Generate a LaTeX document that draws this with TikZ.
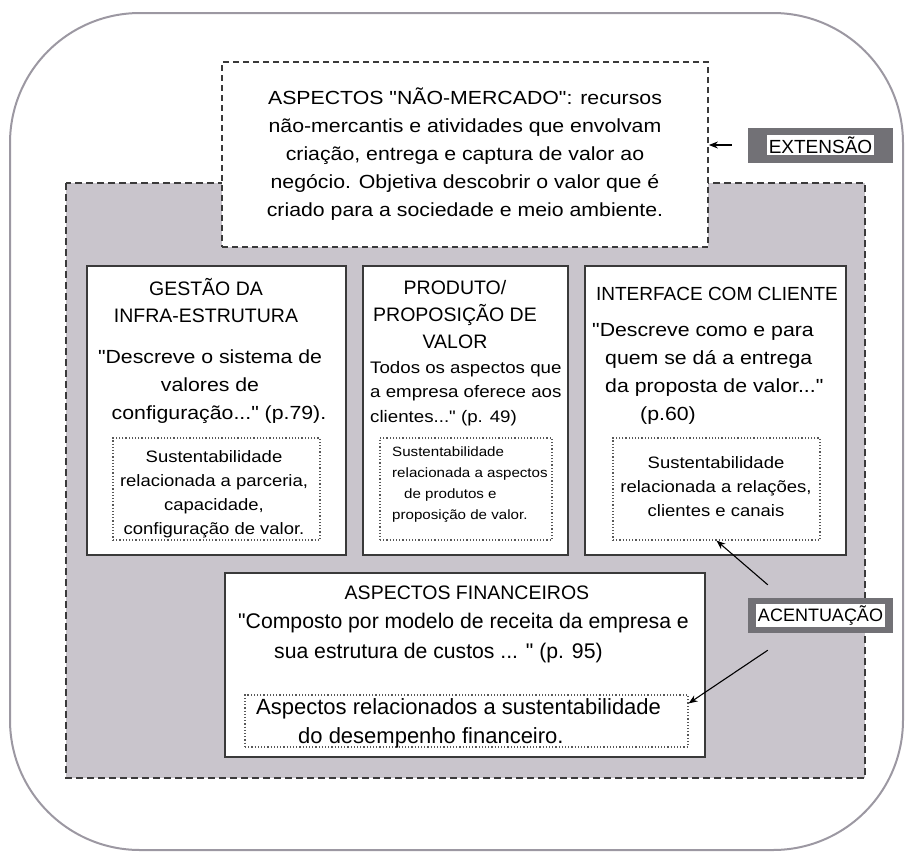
\documentclass[tikz,border=0pt]{standalone}
\usepackage{fontspec}
\setmainfont{Liberation Sans}[Ligatures=TeXOff]
\newfontfamily\widefont{Liberation Sans}[FakeStretch=1.12, Ligatures=TeXOff]
\usetikzlibrary{arrows, arrows.meta, positioning}

\definecolor{framegray}{HTML}{9C98A2}
\definecolor{zonegray}{HTML}{C9C5CC}
\definecolor{linedark}{HTML}{3A3A3A}
\definecolor{tagfill}{HTML}{727176}

\newcommand{\pillartitle}{\fontsize{19.5}{27}\selectfont}
\newcommand{\pillarbody}{\widefont\fontsize{19}{28}\selectfont}
\newcommand{\smallbody}{\widefont\fontsize{16.7}{24.5}\selectfont}
\newcommand{\focusfont}{\widefont\fontsize{16.5}{24}\selectfont}
\newcommand{\tinybody}{\widefont\fontsize{13.5}{20.7}\selectfont}
\newcommand{\finbody}{\fontsize{21.2}{30}\selectfont}

\tikzstyle{naomerc} = [rectangle, draw=linedark, dash pattern=on 6pt off 4pt, line width=1.8pt, fill=white, align=center, font=\pillarbody]
\tikzstyle{pillar} = [rectangle, draw=linedark, line width=2.5pt, fill=white, inner sep=0pt]
\tikzstyle{focus} = [rectangle, draw=linedark!85, dotted, line width=1.2pt, fill=white, inner sep=0pt]
\tikzstyle{tag} = [rectangle, fill=tagfill, inner sep=0pt, minimum width=145pt, minimum height=35pt, font=\fontsize{19}{22}\selectfont]
\tikzstyle{txt} = [inner sep=0pt, anchor=base]
\tikzstyle{pointer} = [line width=1.1pt,-{Stealth[length=9pt,width=7pt]}]

\begin{document}
\begin{tikzpicture}[x=1pt, y=-1pt]
            \useasboundingbox (0,0) rectangle (906,852);
            % Background
            \draw[framegray, line width=2pt, rounded corners=130pt] (10,13) rectangle (903,850);
            \draw[fill=zonegray, draw=linedark, line width=2pt, dash pattern=on 7pt off 4pt] (66,183) rectangle (865,778);

            % Nodes
            \node (naomercado) [naomerc, minimum width=486pt, minimum height=185pt] at (465,154.5)
                {ASPECTOS "NÃO-MERCADO": recursos\\ não-mercantis e atividades que envolvam\\ criação, entrega e captura de valor ao\\ negócio. Objetiva descobrir o valor que é\\ criado para a sociedade e meio ambiente.};
            \node (ext) [tag] at (820.5,145) {\fboxsep=2pt\colorbox{white}{EXTENSÃO}};

            \node (gestao) [pillar, minimum width=259pt, minimum height=289pt] at (216.5,410.5) {};
            \node (produto) [pillar, minimum width=205pt, minimum height=289pt] at (465.5,410.5) {};
            \node (interface) [pillar, minimum width=261pt, minimum height=289pt] at (715.5,410.5) {};
            \node (financeiro) [pillar, minimum width=480pt, minimum height=184pt] at (465,665) {};

            % base anchor sits on the last line
            \node (gestaotit) [txt, align=center, font=\pillartitle] at (206,322) {GESTÃO DA\\ INFRA-ESTRUTURA};
            \node (gestaotxt) [txt, align=center, font=\pillarbody] at (210,419)
                {"Descreve o sistema de\\ valores de\hspace*{32pt}\\ \hspace*{18pt}configuração..." (p.79).};
            \node (gestaosus) [focus, minimum width=207pt, minimum height=102pt] at (216.5,489) {};
            \node (gestaosustxt) [txt, align=center, font=\focusfont] at (214,534)
                {Sustentabilidade\\ relacionada a parceria,\\ capacidade,\\ configuração de valor.};

            \node (produtotit) [txt, align=center, font=\pillartitle] at (455,348) {PRODUTO/\\ PROPOSIÇÃO DE\\ VALOR};
            \node (produtotxt) [txt, anchor=base west, align=left, font=\smallbody] at (370,422)
                {Todos os aspectos que\\ a empresa oferece aos\\ clientes..." (p. 49)};
            \node (produtosus) [focus, minimum width=172pt, minimum height=102pt] at (466,489) {};
            \node (produtosustxt) [txt, anchor=base west, align=left, font=\tinybody] at (392,519)
                {Sustentabilidade\\ relacionada a aspectos\\ \hspace*{12pt}de produtos e\\ proposição de valor.};

            \node (interfacetit) [txt, font=\fontsize{19}{27}\selectfont] at (717,300) {INTERFACE COM CLIENTE};
            \node (interfacetxt) [txt, anchor=base west, align=left, font=\pillarbody] at (592,420)
                {"Descreve como e para\\ \hspace*{13pt}quem se dá a entrega\\ \hspace*{13pt}da proposta de valor..."\\ \hspace*{48pt}(p.60)};
            \node (interfacesus) [focus, minimum width=207pt, minimum height=102pt] at (716.5,489) {};
            \node (interfacesustxt) [txt, align=center, font=\focusfont] at (716,516)
                {Sustentabilidade\\ relacionada a relações,\\ clientes e canais};

            \node (financeirotit) [txt, font=\pillartitle] at (467,599) {ASPECTOS FINANCEIROS};
            \node (financeirotxt) [txt, anchor=base west, align=left, font=\finbody] at (238,658)
                {"Composto por modelo de receita da empresa e\\ \hspace*{36pt}sua estrutura de custos ... " (p. 95)};
            \node (financeirosus) [focus, minimum width=443pt, minimum height=52pt] at (466.5,721) {};
            \node (financeirosustxt) [txt, anchor=base west, align=left, font=\fontsize{22}{29}\selectfont] at (256,743)
                {Aspectos relacionados a sustentabilidade\\ \hspace*{42pt}do desempenho financeiro.};

            \node (acent) [tag, font=\fontsize{18}{21}\selectfont] at (820.5,615.5) {\fboxsep=2pt\colorbox{white}{ACENTUAÇÃO}};
            \coordinate (acentup) at ([xshift=20pt,yshift=13pt]acent.north west);
            \coordinate (acentdown) at ([xshift=20pt,yshift=-17pt]acent.south west);

            % Edges
            \draw [pointer, shorten <=16pt] (ext.west) -- (naomercado.east |- ext.west);
            \draw [pointer] (acentup) -- (interfacesus.south);
            \draw [pointer] (acentdown) -- ([yshift=-9pt]financeirosus.north east);
\end{tikzpicture}
\end{document}
